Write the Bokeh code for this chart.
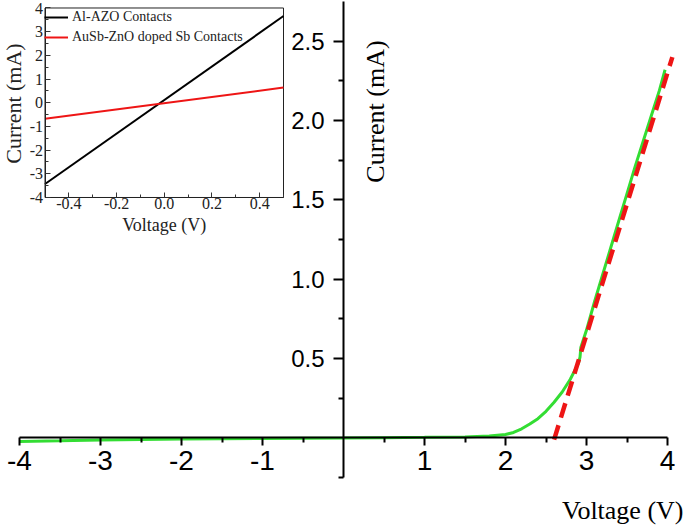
import math
from bokeh.plotting import figure
from bokeh.models import (Range1d, LinearAxis, FixedTicker, PrintfTickFormatter,
                          Label, Legend, LegendItem)
from bokeh.embed import file_html
from bokeh.resources import INLINE

# ---------------- data: main I-V curve ----------------
voltage = [-4.0, -3.5, -3.0, -2.5, -2.0, -1.5, -1.0, -0.5, 0.0, 0.5, 1.0, 1.5,
           1.8, 2.0, 2.1, 2.2, 2.3, 2.4, 2.5, 2.6, 2.7, 2.8, 2.9, 2.92, 2.93,
           3.0, 3.1, 3.2, 3.3, 3.4, 3.5, 3.6, 3.7, 3.8, 3.9, 3.97]
current = [-0.022, -0.018, -0.013, -0.010, -0.007, -0.005, -0.003, -0.001, 0.0,
           0.002, 0.004, 0.007, 0.012, 0.022, 0.035, 0.058, 0.088, 0.122, 0.168,
           0.225, 0.29, 0.37, 0.47, 0.51, 0.57, 0.68, 0.86, 1.03, 1.20, 1.37,
           1.54, 1.71, 1.87, 2.03, 2.19, 2.32]
fit_voltage = [2.6, 4.06]
fit_current = [-0.01, 2.40]

x_major_ticks = [-4, -3, -2, -1, 1, 2, 3, 4]
x_minor_ticks = [-3.5, -2.5, -1.5, -0.5, 0.5, 1.5, 2.5, 3.5]
y_major_ticks = [0.5, 1.0, 1.5, 2.0, 2.5]
y_minor_ticks = [-0.25, 0.25, 0.75, 1.25, 1.75, 2.25]

# ---------------- data: inset ----------------
inset_voltage = [-0.5, 0.5]
inset_al_azo = [-3.43, 3.66]
inset_ausb = [-0.68, 0.64]
inset_x_lim = (-0.5, 0.5)
inset_y_lim = (-4, 4)
inset_x_ticks = [-0.4, -0.2, 0.0, 0.2, 0.4]
inset_x_minor = [-0.5, -0.3, -0.1, 0.1, 0.3, 0.5]
inset_y_ticks = [-4, -3, -2, -1, 0, 1, 2, 3, 4]
inset_y_minor = [-3.5, -2.5, -1.5, -0.5, 0.5, 1.5, 2.5, 3.5]

GREEN = "#33dd33"
RED = "#ee1515"
SANS = "Liberation Sans"
SERIF = "Liberation Serif"

p = figure(width=685, height=525,
           x_range=Range1d(-4.2346, 4.2222), y_range=Range1d(-0.5513, 2.7564),
           x_axis_type=None, y_axis_type=None,
           toolbar_location=None, output_backend="svg", min_border=0,
           outline_line_color=None)
p.extra_x_ranges = {"ix": Range1d(-0.6866, 2.1855)}
p.extra_y_ranges = {"iy": Range1d(-17.847, 4.3166)}

# main curves
p.line(voltage, current, line_color=GREEN, line_width=3)
p.line(fit_voltage, fit_current, line_color=RED, line_width=4.5, line_dash="15 8")

# main axes crossing at origin
xaxis = LinearAxis(fixed_location=0, bounds=(-4, 4),
                   ticker=FixedTicker(ticks=x_major_ticks, minor_ticks=x_minor_ticks),
                   formatter=PrintfTickFormatter(format="%d"),
                   major_tick_in=0, major_tick_out=8, minor_tick_in=0, minor_tick_out=5,
                   axis_line_width=2, major_tick_line_width=2, minor_tick_line_width=2,
                   major_label_text_font=SANS, major_label_text_font_size="28px",
                   major_label_standoff=5, major_label_text_color="black")
p.add_layout(xaxis, "below")

yaxis = LinearAxis(fixed_location=0, bounds=(-0.25, 2.75),
                   ticker=FixedTicker(ticks=y_major_ticks, minor_ticks=y_minor_ticks),
                   formatter=PrintfTickFormatter(format="%.1f"),
                   major_tick_in=0, major_tick_out=10, minor_tick_in=0, minor_tick_out=5,
                   axis_line_width=2, major_tick_line_width=2, minor_tick_line_width=2,
                   major_label_text_font=SANS, major_label_text_font_size="24px",
                   major_label_standoff=9, major_label_text_color="black",
                   major_label_orientation="horizontal")
p.add_layout(yaxis, "left")

p.add_layout(Label(x=4.1975, y=-0.545, text="Voltage (V)", text_font=SERIF,
                   text_font_size="26px", text_align="right", text_baseline="bottom",
                   text_color="black"))
p.add_layout(Label(x=0.395, y=2.057, text="Current (mA)", text_font=SERIF,
                   text_font_size="26px", text_align="center", text_baseline="middle",
                   angle=math.pi / 2, text_color="black"))

# ---------------- inset ----------------
p.quad(left=[inset_x_lim[0]], right=[inset_x_lim[1]],
       bottom=[inset_y_lim[0]], top=[inset_y_lim[1]],
       x_range_name="ix", y_range_name="iy",
       fill_color="white", line_color="#222222", line_width=1)
r_al = p.line(inset_voltage, inset_al_azo, x_range_name="ix", y_range_name="iy",
              line_color="black", line_width=2)
r_au = p.line(inset_voltage, inset_ausb, x_range_name="ix", y_range_name="iy",
              line_color=RED, line_width=2)

ixaxis = LinearAxis(x_range_name="ix", y_range_name="iy", fixed_location=inset_y_lim[0],
                    bounds=inset_x_lim,
                    ticker=FixedTicker(ticks=inset_x_ticks, minor_ticks=inset_x_minor),
                    formatter=PrintfTickFormatter(format="%.1f"),
                    major_tick_in=5, major_tick_out=0, minor_tick_in=3, minor_tick_out=0,
                    axis_line_color="#222222", major_tick_line_color="#333333",
                    minor_tick_line_color="#333333",
                    major_label_text_font=SERIF, major_label_text_font_size="16px",
                    major_label_standoff=1, major_label_text_color="#222222")
p.add_layout(ixaxis, "below")

iyaxis = LinearAxis(x_range_name="ix", y_range_name="iy", fixed_location=inset_x_lim[0],
                    bounds=inset_y_lim,
                    ticker=FixedTicker(ticks=inset_y_ticks, minor_ticks=inset_y_minor),
                    formatter=PrintfTickFormatter(format="%d"),
                    major_tick_in=5, major_tick_out=0, minor_tick_in=3, minor_tick_out=0,
                    axis_line_color="#222222", major_tick_line_color="#333333",
                    minor_tick_line_color="#333333",
                    major_label_text_font=SERIF, major_label_text_font_size="16px",
                    major_label_standoff=2, major_label_text_color="#222222",
                    major_label_orientation="horizontal")
p.add_layout(iyaxis, "left")

p.add_layout(Label(x=0.0, y=-5.14, x_range_name="ix", y_range_name="iy",
                   text="Voltage (V)", text_font=SERIF, text_font_size="18px",
                   text_align="center", text_baseline="middle", text_color="#222222"))
p.add_layout(Label(x=-4.074, y=2.1075, text="Current (mA)", text_font=SERIF,
                   text_font_size="22px", text_align="center", text_baseline="middle",
                   angle=math.pi / 2, text_color="#222222"))

legend = Legend(items=[LegendItem(label="Al-AZO Contacts", renderers=[r_al]),
                       LegendItem(label="AuSb-ZnO doped Sb Contacts", renderers=[r_au])],
                location=(44, 479), orientation="vertical",
                glyph_width=24, glyph_height=18, label_height=18, spacing=2,
                label_standoff=4, padding=0, margin=0,
                label_text_font=SERIF, label_text_font_size="14px",
                label_text_color="#222222",
                background_fill_alpha=0, border_line_alpha=0)
p.add_layout(legend)

open("out.html", "w").write(file_html(p, INLINE))
